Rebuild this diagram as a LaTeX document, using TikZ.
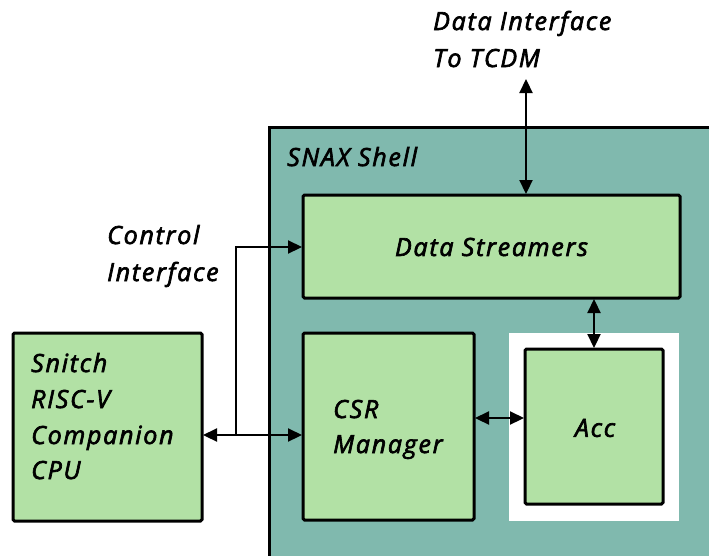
\documentclass[tikz,border=0pt]{standalone}
\usepackage{fontspec}
\setmainfont{Open Sans}[ItalicFeatures={FakeBold=2.6,LetterSpace=7}]
\usetikzlibrary{arrows.meta}
\definecolor{shellc}{RGB}{128,185,174}
\definecolor{boxc}{RGB}{178,225,165}
\begin{document}
\begin{tikzpicture}[x=1pt,y=-1pt,
  blk/.style={draw=black,line width=3pt,fill=boxc,rounded corners=1.5pt},
  lbl/.style={font=\fontsize{25}{36}\selectfont\itshape,align=left,inner sep=0pt},
  tip/.style={Triangle[length=14pt,width=13pt]},
  arr/.style={line width=2.2pt,{Triangle[length=14pt,width=13pt]}-{Triangle[length=14pt,width=13pt]}},
  arrone/.style={line width=2.2pt,-{Triangle[length=14pt,width=13pt]}}]
\useasboundingbox (0,0) rectangle (709,555);
\fill[white] (0,0) rectangle (709,555);
% shell
\fill[shellc] (269,127) rectangle (730,580);
\draw[line width=3pt] (269,580) -- (269,127) -- (730,127);
\node[lbl,anchor=base west] (shl) at (287,166) {SNAX Shell};
% white frame
\fill[white] (509,333) rectangle (679,521);
% blocks
\draw[blk] (303,195) rectangle (680,298);
\node[lbl] (ds) at (491.5,247) {Data Streamers};
\draw[blk] (303,333) rectangle (474,520);
\node[lbl,anchor=base west] (csr) at (333,418) {CSR};
\node[lbl,anchor=base west] (csr2) at (333,453) {Manager};
\draw[blk] (525,349) rectangle (663,504);
\node[lbl] (acc) at (595,428) {Acc};
\draw[blk] (13,333) rectangle (202,521);
\node[lbl,anchor=base west] (sn1) at (31,372) {Snitch};
\node[lbl,anchor=base west] (sn2) at (31,408) {RISC-V};
\node[lbl,anchor=base west] (sn3) at (31,444) {Companion};
\node[lbl,anchor=base west] (sn4) at (31,479) {CPU};
% named anchors
\coordinate (dstop) at (526,194);
\coordinate (dsbot) at (594,299);
\coordinate (acctop) at (594,348);
\coordinate (dsleft) at (302,247);
\coordinate (csrl) at (302,435);
\coordinate (csrr) at (475,418);
\coordinate (accl) at (524,418);
\coordinate (snr) at (203,435);
\coordinate (top) at (526,79);
\coordinate (j1) at (236,435);
\coordinate (j2) at (236,247);
% labels
\node[lbl,anchor=base west] (di) at (433,30) {Data Interface};
\node[lbl,anchor=base west] (di2) at (433,67) {To TCDM};
\node[lbl,anchor=base west] (ci) at (107,244) {Control};
\node[lbl,anchor=base west] (ci2) at (107,281) {Interface};
% connectors
\draw[arr] (top) -- (dstop);
\draw[arr] (dsbot) -- (acctop);
\draw[arr] (csrr) -- (accl);
\draw[arr] (snr) -- (csrl);
\draw[arrone] (j1) -- (j2) -- (dsleft);
\end{tikzpicture}
\end{document}
